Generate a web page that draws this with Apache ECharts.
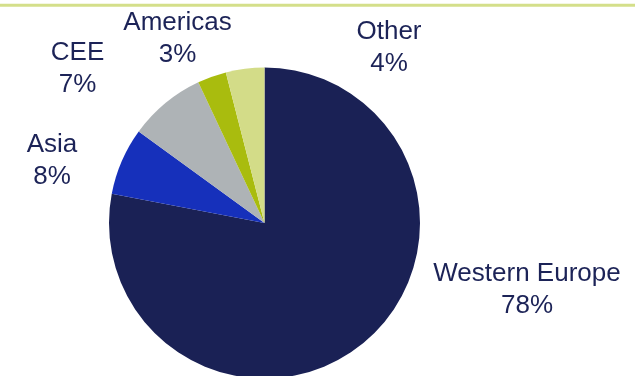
<!DOCTYPE html>
<html>
<head>
<meta charset="utf-8">
<script src="https://cdn.jsdelivr.net/npm/echarts@6/dist/echarts.min.js"></script>
<style>html,body{margin:0;padding:0;background:#fff;}#c{width:635px;height:376px;}</style>
</head>
<body>
<div id="c"></div>
<script>
var categories = ['Western Europe', 'Asia', 'CEE', 'Americas', 'Other'];
var values = [78, 7, 8, 3, 4];
var labelPercents = ['78%', '8%', '7%', '3%', '4%'];
var colors = ['#1a2155', '#1630bb', '#aeb3b6', '#a9bc0e', '#d3dc88'];
var labelPos = [[527, 290], [52, 161], [77.5, 69], [177.5, 39], [389, 48]];

var chart = echarts.init(document.getElementById('c'), null, {renderer: 'canvas'});
chart.setOption({
  animation: false,
  backgroundColor: '#fff',
  graphic: [{
    type: 'line',
    shape: {x1: 0, y1: 5.3, x2: 635, y2: 5.3},
    style: {stroke: '#d4df8a', lineWidth: 3}
  }],
  series: [{
    type: 'pie',
    center: [264.5, 223],
    radius: 155.5,
    startAngle: 90,
    clockwise: true,
    avoidLabelOverlap: false,
    itemStyle: {borderWidth: 0},
    data: categories.map(function (c, i) {
      return {name: c, value: values[i], itemStyle: {color: colors[i]}};
    }),
    label: {
      show: true,
      position: 'outside',
      formatter: function (p) { return p.name + '\n' + labelPercents[p.dataIndex]; },
      fontFamily: 'Liberation Sans, Arial, sans-serif',
      fontSize: 26,
      lineHeight: 32,
      color: '#1c2357',
      align: 'center'
    },
    labelLine: {show: false},
    labelLayout: function (p) {
      var pos = labelPos[p.dataIndex];
      return {x: pos[0], y: pos[1], align: 'center', verticalAlign: 'middle'};
    },
    emphasis: {disabled: true}
  }]
});
</script>
</body>
</html>
